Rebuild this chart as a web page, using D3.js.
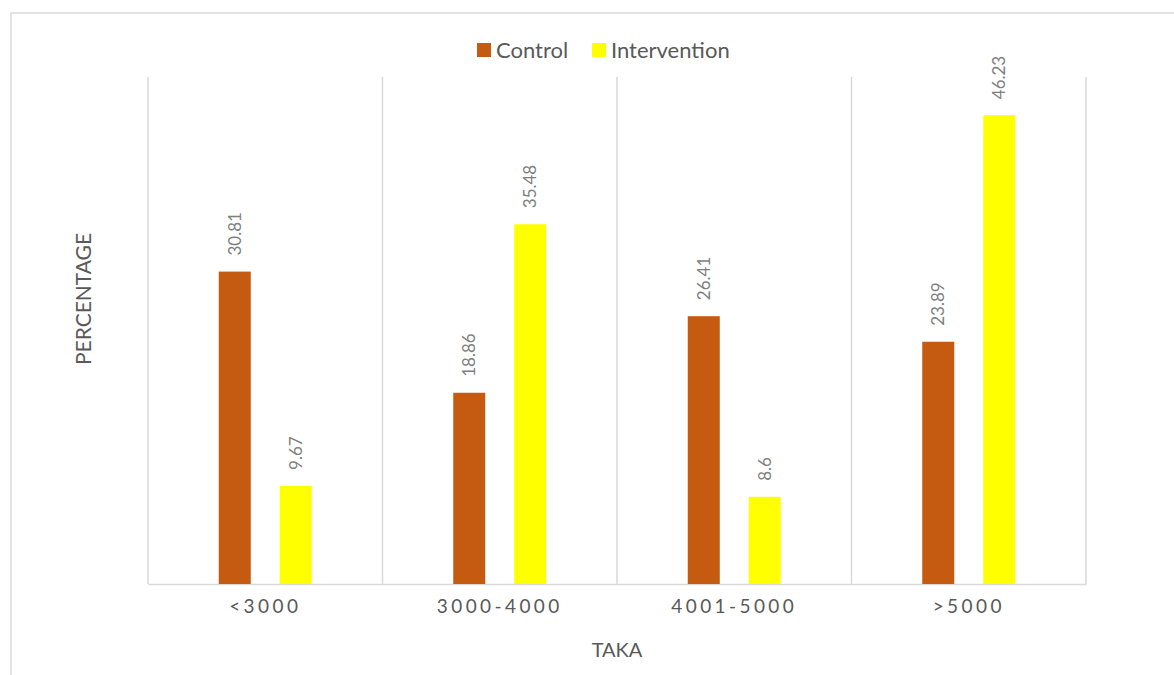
<!DOCTYPE html>
<html>
<head>
<meta charset="utf-8">
<script src="https://cdn.jsdelivr.net/npm/d3@7"></script>
<style>
  html, body { margin: 0; padding: 0; background: #fff; }
  svg { display: block; font-family: Lato, "Open Sans", sans-serif; }
</style>
</head>
<body>
<svg id="chart" width="1174" height="675"></svg>
<script>
// Monthly income groups (Taka) and share of respondents per group
const categories = ["<3000", "3000-4000", "4001-5000", ">5000"];
const seriesNames = ["Control", "Intervention"];
const controlValues = [30.81, 18.86, 26.41, 23.89];
const interventionValues = [9.67, 35.48, 8.6, 46.23];
const seriesColors = ["#C55A11", "#FFFF00"];

const svg = d3.select("#chart");
const W = 1174, H = 675;
const margin = { left: 148, right: 88, top: 77, bottom: 91 };
const plotBottom = H - margin.bottom;

// Outer chart frame (runs past the right and bottom edges)
svg.append("rect")
  .attr("x", 11).attr("y", 13)
  .attr("width", 1200).attr("height", 700)
  .attr("fill", "#fff")
  .attr("stroke", "#D9D9D9").attr("stroke-width", 1.5);

const x0 = d3.scaleBand()
  .domain(categories)
  .range([margin.left, W - margin.right])
  .padding(0);

const x1 = d3.scaleBand()
  .domain(seriesNames)
  .range([0, x0.bandwidth()])
  .paddingInner(0.475)
  .paddingOuter(1.16);

const y = d3.scaleLinear()
  .domain([0, 50])
  .range([plotBottom, margin.top]);

// Vertical separators between categories
const bounds = categories.map(c => x0(c)).concat([x0.range()[1]]);
svg.append("g").selectAll("line")
  .data(bounds)
  .join("line")
  .attr("x1", d => d).attr("x2", d => d)
  .attr("y1", margin.top).attr("y2", plotBottom)
  .attr("stroke", "#D9D9D9").attr("stroke-width", 1.5);

// Category axis along the baseline
const xAxis = svg.append("g")
  .attr("transform", `translate(0,${plotBottom})`)
  .call(d3.axisBottom(x0).tickSize(0).tickPadding(16));
xAxis.select(".domain").attr("stroke", "#D9D9D9").attr("stroke-width", 1.5);
xAxis.selectAll("text")
  .attr("fill", "#595959")
  .style("font-family", "Lato, 'Open Sans', sans-serif")
  .style("font-size", "19px")
  .style("letter-spacing", "3.4px");

const rows = categories.map((c, i) => ({
  category: c,
  values: [
    { name: seriesNames[0], value: controlValues[i], color: seriesColors[0] },
    { name: seriesNames[1], value: interventionValues[i], color: seriesColors[1] }
  ]
}));

const groups = svg.append("g").selectAll("g")
  .data(rows)
  .join("g")
  .attr("transform", d => `translate(${x0(d.category)},0)`);

groups.selectAll("rect")
  .data(d => d.values)
  .join("rect")
  .attr("x", d => x1(d.name))
  .attr("y", d => y(d.value))
  .attr("width", x1.bandwidth())
  .attr("height", d => plotBottom - y(d.value))
  .attr("fill", d => d.color);

// Value labels, rotated above each bar
groups.selectAll("text.val")
  .data(d => d.values)
  .join("text")
  .attr("class", "val")
  .attr("transform", d => `translate(${x1(d.name) + x1.bandwidth() / 2},${y(d.value) - 16}) rotate(-90)`)
  .attr("dy", "0.35em")
  .attr("text-anchor", "start")
  .attr("fill", "#7F7F7F")
  .style("font-size", "17px")
  .text(d => d.value);

// Legend
const legend = svg.append("g");
const legendItems = [
  { name: seriesNames[0], color: seriesColors[0], x: 477 },
  { name: seriesNames[1], color: seriesColors[1], x: 592 }
];
const li = legend.selectAll("g").data(legendItems).join("g")
  .attr("transform", d => `translate(${d.x},43)`);
li.append("rect").attr("width", 14).attr("height", 14).attr("fill", d => d.color);
li.append("text")
  .attr("x", 19).attr("y", 7).attr("dy", "0.36em")
  .attr("fill", "#595959")
  .style("font-size", "22px")
  .text(d => d.name);

// Axis titles
svg.append("text")
  .attr("x", 617).attr("y", 650).attr("dy", "0.35em")
  .attr("text-anchor", "middle")
  .attr("fill", "#595959")
  .style("font-size", "20px")
  .text("TAKA");

svg.append("text")
  .attr("transform", "translate(84,299) rotate(-90)")
  .attr("dy", "0.35em")
  .attr("text-anchor", "middle")
  .attr("fill", "#595959")
  .style("font-size", "21px")
  .text("PERCENTAGE");
</script>
</body>
</html>
